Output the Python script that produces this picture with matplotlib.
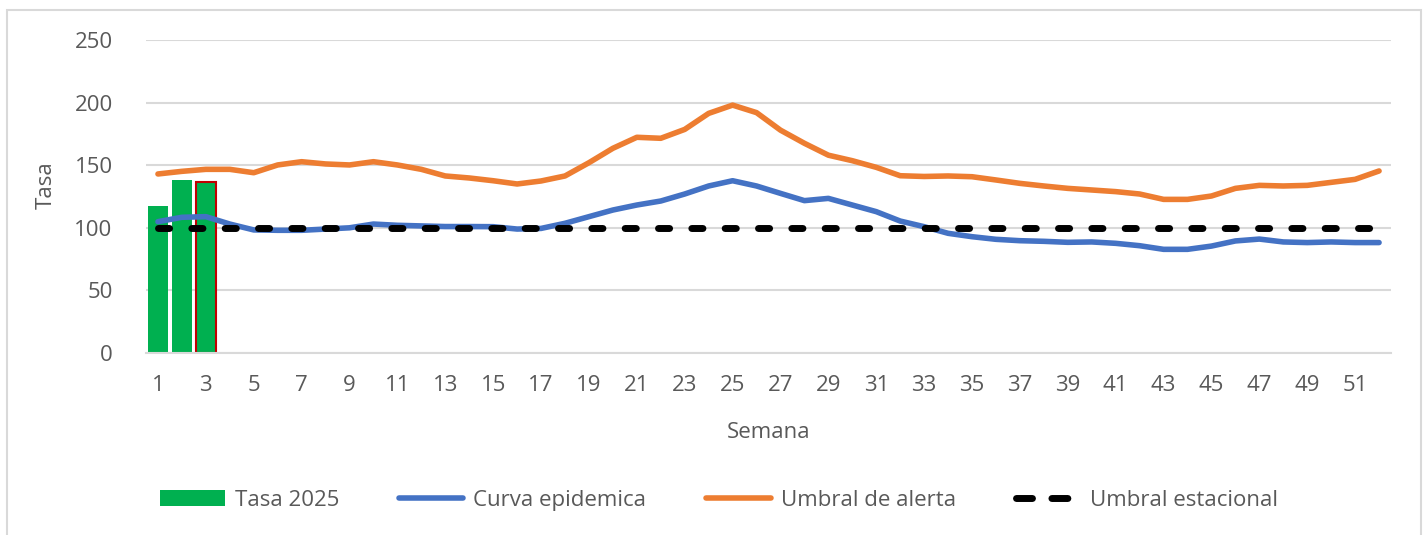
import numpy as np
import matplotlib.pyplot as plt
from matplotlib.patches import Rectangle
from matplotlib.lines import Line2D

plt.rcParams['font.family'] = ['Open Sans', 'DejaVu Sans']

# --- data ---
semanas = list(range(1, 53))
tasa_2025 = [117.4, 138.0, 136.8]

curva_epidemica = [
    104.9, 108.4, 108.9, 103.0, 98.3, 98.0, 98.0, 99.0, 100.0, 103.0,
    102.0, 101.5, 101.0, 101.0, 100.9, 99.0, 99.5, 103.6, 108.9, 114.2,
    118.2, 121.4, 127.0, 133.4, 137.6, 133.4, 127.5, 121.7, 123.5, 118.2,
    112.9, 105.4, 100.9, 95.6, 92.9, 90.8, 89.7, 89.2, 88.4, 88.7,
    87.6, 85.7, 82.8, 82.8, 85.4, 89.5, 91.0, 88.7, 88.2, 88.7,
    88.2, 88.2,
]

umbral_alerta = [
    143.0, 145.1, 146.7, 146.7, 144.0, 150.2, 152.8, 151.0, 150.2, 152.8,
    150.2, 146.7, 141.4, 139.8, 137.6, 135.0, 137.4, 141.4, 152.0, 163.5,
    172.3, 171.5, 178.6, 191.4, 198.0, 192.0, 178.0, 167.5, 158.0, 153.6,
    148.3, 141.6, 141.0, 141.4, 140.8, 138.2, 135.5, 133.4, 131.5, 130.2,
    128.9, 127.0, 122.7, 122.7, 125.4, 131.5, 133.9, 133.4, 133.9, 136.3,
    138.7, 145.4,
]

umbral_estacional = [100] * 52

xticks = list(range(1, 53, 2))

# --- figure ---
fig = plt.figure(figsize=(14.27, 5.35), dpi=100)
ax = fig.add_axes([0.1023, 0.3402, 0.8725, 0.5850])

grey_text = '#595959'
fs = 16

h_bar = ax.bar(semanas[:3], tasa_2025, width=0.83, color='#00b050', zorder=2)
ax.bar(semanas[2], tasa_2025[2], width=0.83, color='#00b050',
       edgecolor='#c00000', linewidth=1.5, zorder=2)

h_curva, = ax.plot(semanas, curva_epidemica, color='#4472c4', linewidth=4,
                   solid_capstyle='round', zorder=3)
h_alerta, = ax.plot(semanas, umbral_alerta, color='#ed7d31', linewidth=4,
                    solid_capstyle='round', zorder=3)
ax.plot(semanas, umbral_estacional, color='black', linewidth=5,
        dashes=(1.6, 3.2), dash_capstyle='round', zorder=4)

# legend proxy for the dashed line (three dashes, like the original)
h_estacional = Line2D([], [], color='black', linewidth=5,
                      dashes=(2.3, 2.8), dash_capstyle='round')

ax.set_xlim(0.5, 52.5)
ax.set_ylim(0, 250)
ax.set_yticks([0, 50, 100, 150, 200, 250])
ax.set_xticks(xticks)
ax.yaxis.grid(True, color='#d9d9d9', linewidth=1.5, zorder=0)
ax.set_axisbelow(True)
for s in ['top', 'right', 'left']:
    ax.spines[s].set_visible(False)
ax.spines['bottom'].set_color('#d9d9d9')
ax.spines['bottom'].set_linewidth(1.5)
ax.tick_params(axis='both', length=0, labelsize=fs, colors=grey_text)
ax.tick_params(axis='x', pad=16)
ax.tick_params(axis='y', pad=24)

ax.set_xlabel('Semana', fontsize=fs, color=grey_text)
ax.xaxis.set_label_coords(0.5, -0.22)
ax.set_ylabel('Tasa', fontsize=fs, color=grey_text)
ax.yaxis.set_label_coords(-0.072, 0.535)

leg = fig.legend([h_bar, h_curva, h_alerta, h_estacional],
                 ['Tasa 2025', 'Curva epidemica', 'Umbral de alerta',
                  'Umbral estacional'],
                 loc='center', bbox_to_anchor=(0.504, 0.065), ncol=4,
                 frameon=False, fontsize=fs, handlelength=2.9,
                 columnspacing=2.7, handletextpad=0.45)
for t in leg.get_texts():
    t.set_color(grey_text)

# outer chart frame
fig.patches.append(Rectangle((7 / 1427, -0.05), (1421 - 7) / 1427,
                             1.05 - 10 / 535, transform=fig.transFigure,
                             fill=False, edgecolor='#d9d9d9', linewidth=1.5))

fig.savefig('out.png', dpi=100)
